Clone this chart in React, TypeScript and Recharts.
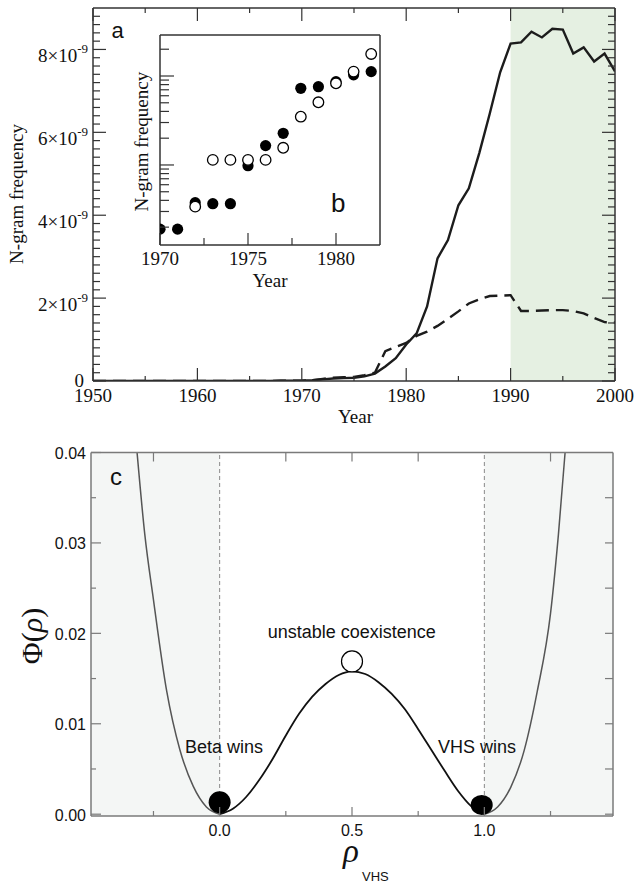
import React from "react";
import {
  ComposedChart,
  Line,
  XAxis,
  YAxis,
  ReferenceArea,
  ReferenceLine,
  Scatter,
} from "recharts";

// ---------- Panel a: main N-gram frequency (units of 1e-9) ----------
const years = [
  1950, 1951, 1952, 1953, 1954, 1955, 1956, 1957, 1958, 1959,
  1960, 1961, 1962, 1963, 1964, 1965, 1966, 1967, 1968, 1969,
  1970, 1971, 1972, 1973, 1974, 1975, 1976, 1977, 1978, 1979,
  1980, 1981, 1982, 1983, 1984, 1985, 1986, 1987, 1988, 1989,
  1990, 1991, 1992, 1993, 1994, 1995, 1996, 1997, 1998, 1999, 2000,
];
const solidE9 = [
  0, 0, 0, 0, 0, 0, 0, 0, 0, 0,
  0, 0, 0, 0, 0, 0, 0, 0, 0.005, 0.01,
  0.01, 0.02, 0.04, 0.06, 0.07, 0.08, 0.11, 0.18, 0.35, 0.55,
  0.88, 1.15, 1.8, 2.96, 3.4, 4.24, 4.65, 5.5, 6.45, 7.45,
  8.14, 8.17, 8.43, 8.29, 8.5, 8.48, 7.9, 8.05, 7.71, 7.9, 7.47,
];
const dashedE9 = [
  0, 0, 0, 0, 0, 0, 0, 0, 0, 0,
  0, 0, 0, 0, 0, 0, 0, 0, 0.005, 0.01,
  0.01, 0.02, 0.05, 0.08, 0.09, 0.1, 0.14, 0.2, 0.72, 0.82,
  0.92, 1.09, 1.19, 1.33, 1.5, 1.68, 1.87, 1.97, 2.05, 2.06,
  2.07, 1.69, 1.69, 1.7, 1.71, 1.71, 1.69, 1.63, 1.52, 1.42, 1.41,
];
const mainXTicks = [1950, 1955, 1960, 1965, 1970, 1975, 1980, 1985, 1990, 1995, 2000];
const mainYTicks = Array.from({ length: 45 }, (_, i) => +(i * 0.2).toFixed(1));

// ---------- Panel b: inset (log scale) ----------
const insetFilledYears = [1970, 1971, 1972, 1973, 1974, 1975, 1976, 1977, 1978, 1979, 1980, 1981, 1982];
const insetFilledVals = [
  1.9e-11, 1.9e-11, 3.77e-11, 3.67e-11, 3.67e-11, 9.8e-11, 1.65e-10, 2.27e-10,
  7.27e-10, 7.58e-10, 8.63e-10, 1.03e-9, 1.12e-9,
];
const insetOpenYears = [1972, 1973, 1974, 1975, 1976, 1977, 1978, 1979, 1980, 1981, 1982];
const insetOpenVals = [
  3.4e-11, 1.14e-10, 1.14e-10, 1.14e-10, 1.14e-10, 1.56e-10, 3.49e-10, 5.06e-10,
  8.28e-10, 1.12e-9, 1.77e-9,
];
const insetXTicks = [1970, 1972.5, 1975, 1977.5, 1980];
const insetYTicks = [
  2e-11, 3e-11, 4e-11, 5e-11, 6e-11, 7e-11, 8e-11, 9e-11,
  1e-10, 2e-10, 3e-10, 4e-10, 5e-10, 6e-10, 7e-10, 8e-10, 9e-10,
  1e-9, 2e-9,
];
const INSET_Y_DOMAIN = [1.26e-11, 2.89e-9];

// ---------- Panel c: potential ----------
const leftRho = [-0.312, -0.283, -0.25, -0.2, -0.15, -0.1, -0.05, 0];
const leftPhi = [0.04, 0.031, 0.0237, 0.0136, 0.0071, 0.0031, 0.0008, 0];
const midRho = [0, 0.05, 0.1, 0.15, 0.2, 0.25, 0.3, 0.35, 0.4, 0.45, 0.5, 0.55, 0.6, 0.65, 0.7, 0.75, 0.8, 0.85, 0.9, 0.95, 1.0];
const midPhi = [
  0, 0.0006, 0.0019, 0.0038, 0.0061, 0.0087, 0.0111, 0.013, 0.0144, 0.0154, 0.0158,
  0.0155, 0.0146, 0.0133, 0.0116, 0.0094, 0.0071, 0.0048, 0.0026, 0.0009, 0,
];
const rightRho = [1.0, 1.05, 1.1, 1.15, 1.2, 1.25, 1.28, 1.305];
const rightPhi = [0, 0.0008, 0.003, 0.007, 0.0136, 0.0222, 0.031, 0.04];
const betaPoint = [{ x: 0, y: 0.00133 }];
const vhsPoint = [{ x: 0.99, y: 0.00103 }];
const unstablePoint = [{ x: 0.5, y: 0.0169 }];
const RHO_DOMAIN = [-0.486, 1.486];
const PHI_DOMAIN = [-0.0002, 0.04];
const phiLeftTicks = [0, 0.005, 0.01, 0.015, 0.02, 0.025, 0.03, 0.035, 0.04];
const phiRightTicks = [0, 0.005, 0.01, 0.015, 0.02, 0.025, 0.03, 0.035];
const rhoBottomTicks = [-0.25, 0, 0.25, 0.5, 0.75, 1, 1.25];
const rhoTopTicks = [-0.25, 0.25, 0.5, 0.75, 1.25];

// ---------- styles ----------
const SERIF = '"Liberation Serif", "Times New Roman", Times, serif';
const SANS = '"Liberation Sans", Arial, Helvetica, sans-serif';
const AX_A = "#333";
const AX_C = "#7a7a7a";
const INK = "#111";

const near = (v: number, step: number) => Math.abs(v / step - Math.round(v / step)) < 1e-6;
const isDecade = (v: number) => Math.abs(Math.log10(v) - Math.round(Math.log10(v))) < 1e-6;

// ---------- tick renderers ----------
const MainLeftTick = (props: any) => {
  const { x, y, payload } = props;
  const v = payload.value;
  const major = near(v, 2);
  return (
    <g>
      <line x1={x} y1={y} x2={x + (major ? 13 : 7)} y2={y} stroke={AX_A} strokeWidth={1.2} />
      {major && v === 0 && (
        <text x={x - 9} y={y + 6} textAnchor="end" fontFamily={SERIF} fontSize={19} fill={INK}>0</text>
      )}
      {major && v !== 0 && (
        <text x={x - 5} y={y + 13} textAnchor="end" fontFamily={SERIF} fontSize={19} fill={INK}>
          {`${v}×10`}
          <tspan dy={-9} fontSize={13}>-9</tspan>
        </text>
      )}
    </g>
  );
};
const MainRightTick = (props: any) => {
  const { x, y, payload } = props;
  const major = near(payload.value, 2);
  return <line x1={x} y1={y} x2={x - (major ? 13 : 7)} y2={y} stroke={AX_A} strokeWidth={1.2} />;
};
const MainBottomTick = (props: any) => {
  const { x, y, payload } = props;
  const v = payload.value;
  const major = near(v, 10);
  return (
    <g>
      <line x1={x} y1={y} x2={x} y2={y - (major ? 13 : 5)} stroke={AX_A} strokeWidth={1.2} />
      {major && (
        <text x={x} y={y + 21} textAnchor="middle" fontFamily={SERIF} fontSize={19} fill={INK}>{v}</text>
      )}
    </g>
  );
};
const MainTopTick = (props: any) => {
  const { x, y, payload } = props;
  const major = near(payload.value, 10);
  return <line x1={x} y1={y} x2={x} y2={y + (major ? 13 : 5)} stroke={AX_A} strokeWidth={1.2} />;
};

const InsetLeftTick = (props: any) => {
  const { x, y, payload } = props;
  const major = isDecade(payload.value);
  return <line x1={x} y1={y} x2={x + (major ? 14 : 9)} y2={y} stroke={AX_A} strokeWidth={1.2} />;
};
const InsetBottomTick = (props: any) => {
  const { x, y, payload } = props;
  const v = payload.value;
  const major = near(v, 5);
  return (
    <g>
      <line x1={x} y1={y} x2={x} y2={y - (major ? 12 : 7)} stroke={AX_A} strokeWidth={1.2} />
      {major && (
        <text x={x} y={y + 20} textAnchor="middle" fontFamily={SERIF} fontSize={19} fill={INK}>{v}</text>
      )}
    </g>
  );
};

const CLeftTick = (props: any) => {
  const { x, y, payload } = props;
  const v = payload.value;
  const major = near(v, 0.01);
  return (
    <g>
      <line x1={x} y1={y} x2={x + (major ? 10 : 5)} y2={y} stroke={AX_C} strokeWidth={1.2} />
      {major && (
        <text x={x - 5} y={y + 6.5} textAnchor="end" fontFamily={SANS} fontSize={16} fill={INK}>{v.toFixed(2)}</text>
      )}
    </g>
  );
};
const CRightTick = (props: any) => {
  const { x, y } = props;
  return <line x1={x} y1={y} x2={x - 8} y2={y} stroke={AX_C} strokeWidth={1.2} />;
};
const CBottomTick = (props: any) => {
  const { x, y, payload } = props;
  const v = payload.value;
  const major = near(v, 0.5);
  return (
    <g>
      <line x1={x} y1={y} x2={x} y2={y - (major ? 9 : 5)} stroke={AX_C} strokeWidth={1.2} />
      {major && (
        <text x={x} y={y + 20} textAnchor="middle" fontFamily={SANS} fontSize={16} fill={INK}>{v.toFixed(1)}</text>
      )}
    </g>
  );
};
const CTopTick = (props: any) => {
  const { x, y } = props;
  return <line x1={x} y1={y} x2={x} y2={y + 9} stroke={AX_C} strokeWidth={1.2} />;
};

export default function App() {
  const mainData = years.map((yr, i) => ({ year: yr, solid: solidE9[i], dashed: dashedE9[i] }));
  const filledData = insetFilledYears.map((yr, i) => ({ year: yr, v: insetFilledVals[i] }));
  const openData = insetOpenYears.map((yr, i) => ({ year: yr, v: insetOpenVals[i] }));
  const leftData = leftRho.map((r, i) => ({ x: r, y: leftPhi[i] }));
  const midData = midRho.map((r, i) => ({ x: r, y: midPhi[i] }));
  const rightData = rightRho.map((r, i) => ({ x: r, y: rightPhi[i] }));

  return (
    <div style={{ position: "absolute", left: 0, top: 0, width: 634, height: 883, background: "#fff", overflow: "hidden" }}>
      {/* Panel a */}
      <div style={{ position: "absolute", left: 0, top: 0 }}>
        <ComposedChart width={634} height={430} data={mainData} margin={{ top: 7, right: 18, bottom: 0, left: 0 }}>
          <XAxis xAxisId="b" dataKey="year" type="number" domain={[1950, 2000]} ticks={mainXTicks} interval={0}
            orientation="bottom" height={49} tickSize={0} tickMargin={0} tickLine={false}
            axisLine={{ stroke: AX_A, strokeWidth: 1.5 }} tick={MainBottomTick} allowDataOverflow />
          <XAxis xAxisId="t" dataKey="year" type="number" domain={[1950, 2000]} ticks={mainXTicks} interval={0}
            orientation="top" height={1} tickSize={0} tickMargin={0} tickLine={false}
            axisLine={{ stroke: AX_A, strokeWidth: 1.5 }} tick={MainTopTick} allowDataOverflow />
          <YAxis yAxisId="l" type="number" domain={[0, 9]} ticks={mainYTicks} interval={0}
            orientation="left" width={93} tickSize={0} tickMargin={0} tickLine={false}
            axisLine={{ stroke: AX_A, strokeWidth: 1.5 }} tick={MainLeftTick} allowDataOverflow />
          <YAxis yAxisId="r" type="number" domain={[0, 9]} ticks={mainYTicks} interval={0}
            orientation="right" width={1} tickSize={0} tickMargin={0} tickLine={false}
            axisLine={{ stroke: AX_A, strokeWidth: 1.5 }} tick={MainRightTick} allowDataOverflow />
          <ReferenceArea xAxisId="b" yAxisId="l" x1={1990} x2={2000} y1={0} y2={9} fill="#e5f0e2" fillOpacity={1} stroke="none" />
          <Line xAxisId="b" yAxisId="l" type="linear" dataKey="dashed" stroke="#1c1c1c" strokeWidth={2.4}
            strokeDasharray="13 7" dot={false} isAnimationActive={false} />
          <Line xAxisId="b" yAxisId="l" type="linear" dataKey="solid" stroke="#1c1c1c" strokeWidth={2.4}
            dot={false} isAnimationActive={false} />
        </ComposedChart>
      </div>

      {/* Panel b: inset */}
      <div style={{ position: "absolute", left: 0, top: 0 }}>
        <ComposedChart width={400} height={300} margin={{ top: 34, right: 19, bottom: 0, left: 0 }}>
          <XAxis xAxisId="b" dataKey="year" type="number" domain={[1970, 1982.5]} ticks={insetXTicks} interval={0}
            orientation="bottom" height={55} tickSize={0} tickMargin={0} tickLine={false}
            axisLine={{ stroke: AX_A, strokeWidth: 1.5 }} tick={InsetBottomTick} allowDataOverflow />
          <XAxis xAxisId="t" dataKey="year" type="number" domain={[1970, 1982.5]} orientation="top" height={1}
            tick={false} tickLine={false} axisLine={{ stroke: AX_A, strokeWidth: 1.5 }} allowDataOverflow />
          <YAxis yAxisId="l" dataKey="v" type="number" scale="log" domain={INSET_Y_DOMAIN} ticks={insetYTicks} interval={0}
            orientation="left" width={160} tickSize={0} tickMargin={0} tickLine={false}
            axisLine={{ stroke: AX_A, strokeWidth: 1.5 }} tick={InsetLeftTick} allowDataOverflow />
          <YAxis yAxisId="r" dataKey="v" type="number" scale="log" domain={INSET_Y_DOMAIN} orientation="right" width={1}
            tick={false} tickLine={false} axisLine={{ stroke: AX_A, strokeWidth: 1.5 }} allowDataOverflow />
          <ReferenceArea xAxisId="b" yAxisId="l" x1={1970} x2={1982.5} y1={INSET_Y_DOMAIN[0]} y2={INSET_Y_DOMAIN[1]}
            fill="#fff" fillOpacity={1} stroke="none" />
          <Scatter xAxisId="b" yAxisId="l" data={filledData} isAnimationActive={false}
            shape={(p: any) => <circle cx={p.cx} cy={p.cy} r={5.6} fill="#000" />} />
          <Scatter xAxisId="b" yAxisId="l" data={openData} isAnimationActive={false}
            shape={(p: any) => <circle cx={p.cx} cy={p.cy} r={5.3} fill="#fff" stroke="#000" strokeWidth={1.3} />} />
        </ComposedChart>
      </div>

      {/* Panel c */}
      <div style={{ position: "absolute", left: 0, top: 430 }}>
        <ComposedChart width={634} height={453} margin={{ top: 21.5, right: 20, bottom: 0, left: 0 }}>
          <XAxis xAxisId="b" dataKey="x" type="number" domain={RHO_DOMAIN} ticks={rhoBottomTicks} interval={0}
            orientation="bottom" height={67} tickSize={0} tickMargin={0} tickLine={false}
            axisLine={{ stroke: AX_C, strokeWidth: 1.5 }} tick={CBottomTick} allowDataOverflow />
          <XAxis xAxisId="t" dataKey="x" type="number" domain={RHO_DOMAIN} ticks={rhoTopTicks} interval={0}
            orientation="top" height={1} tickSize={0} tickMargin={0} tickLine={false}
            axisLine={{ stroke: AX_C, strokeWidth: 1.5 }} tick={CTopTick} allowDataOverflow />
          <YAxis yAxisId="l" dataKey="y" type="number" domain={PHI_DOMAIN} ticks={phiLeftTicks} interval={0}
            orientation="left" width={91} tickSize={0} tickMargin={0} tickLine={false}
            axisLine={{ stroke: AX_C, strokeWidth: 1.5 }} tick={CLeftTick} allowDataOverflow />
          <YAxis yAxisId="r" dataKey="y" type="number" domain={PHI_DOMAIN} ticks={phiRightTicks} interval={0}
            orientation="right" width={1} tickSize={0} tickMargin={0} tickLine={false}
            axisLine={{ stroke: AX_C, strokeWidth: 1.5 }} tick={CRightTick} allowDataOverflow />
          <ReferenceArea xAxisId="b" yAxisId="l" x1={RHO_DOMAIN[0]} x2={0} y1={PHI_DOMAIN[0]} y2={PHI_DOMAIN[1]}
            fill="#f4f6f5" fillOpacity={1} stroke="none" />
          <ReferenceArea xAxisId="b" yAxisId="l" x1={1} x2={RHO_DOMAIN[1]} y1={PHI_DOMAIN[0]} y2={PHI_DOMAIN[1]}
            fill="#f4f6f5" fillOpacity={1} stroke="none" />
          <ReferenceLine xAxisId="b" yAxisId="l" x={0} stroke="#8a8a8a" strokeDasharray="4 3" strokeWidth={1} />
          <ReferenceLine xAxisId="b" yAxisId="l" x={1} stroke="#8a8a8a" strokeDasharray="4 3" strokeWidth={1} />
          <Line xAxisId="b" yAxisId="l" data={leftData} dataKey="y" type="monotone" stroke="#555" strokeWidth={1.5}
            dot={false} isAnimationActive={false} />
          <Line xAxisId="b" yAxisId="l" data={midData} dataKey="y" type="monotone" stroke="#111" strokeWidth={1.8}
            dot={false} isAnimationActive={false} />
          <Line xAxisId="b" yAxisId="l" data={rightData} dataKey="y" type="monotone" stroke="#555" strokeWidth={1.5}
            dot={false} isAnimationActive={false} />
          <Scatter xAxisId="b" yAxisId="l" data={betaPoint} isAnimationActive={false}
            shape={(p: any) => <circle cx={p.cx} cy={p.cy} r={11} fill="#000" />} />
          <Scatter xAxisId="b" yAxisId="l" data={vhsPoint} isAnimationActive={false}
            shape={(p: any) => <ellipse cx={p.cx} cy={p.cy} rx={11} ry={10} fill="#000" />} />
          <Scatter xAxisId="b" yAxisId="l" data={unstablePoint} isAnimationActive={false}
            shape={(p: any) => <circle cx={p.cx} cy={p.cy} r={10.5} fill="#fff" stroke="#000" strokeWidth={1.2} />} />
        </ComposedChart>
      </div>

      {/* Text overlay */}
      <svg width={634} height={883} style={{ position: "absolute", left: 0, top: 0, pointerEvents: "none" }}>
        <text x={111.5} y={37.5} fontFamily={SANS} fontSize={22} fill={INK}>a</text>
        <text x={331} y={211.5} fontFamily={SANS} fontSize={26} fill={INK}>b</text>
        <text x={110} y={485} fontFamily={SANS} fontSize={24} fill={INK}>c</text>
        <text transform="translate(22.5,194) rotate(-90)" textAnchor="middle" fontFamily={SERIF} fontSize={19} fill={INK}>N-gram frequency</text>
        <text x={355.5} y={423} textAnchor="middle" fontFamily={SERIF} fontSize={19} fill={INK}>Year</text>
        <text transform="translate(148,141.7) rotate(-90)" textAnchor="middle" fontFamily={SERIF} fontSize={19} fill={INK}>N-gram frequency</text>
        <text x={270} y={287} textAnchor="middle" fontFamily={SERIF} fontSize={19} fill={INK}>Year</text>
        <text transform="translate(41.5,636) rotate(-90)" textAnchor="middle" fontFamily={SERIF} fontSize={30} fill={INK}>
          Φ(<tspan fontStyle="italic">ρ</tspan>)
        </text>
        <text x={343} y={862} fontFamily={SERIF} fontStyle="italic" fontSize={33} fill={INK}>ρ</text>
        <text x={362} y={880.5} fontFamily={SANS} fontSize={13} fill={INK}>VHS</text>
        <text x={351.7} y={638} textAnchor="middle" fontFamily={SANS} fontSize={18} fill={INK}>unstable coexistence</text>
        <text x={185} y={752.5} fontFamily={SANS} fontSize={18} fill={INK}>Beta wins</text>
        <text x={438} y={752.5} fontFamily={SANS} fontSize={18} fill={INK}>VHS wins</text>
      </svg>
    </div>
  );
}
